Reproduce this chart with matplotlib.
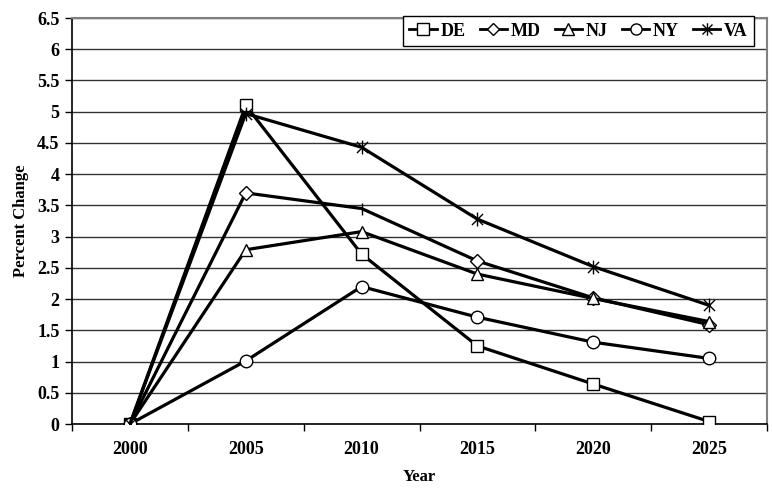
"""
plot.py
percent change by state, 2000-2025
"""

import matplotlib
matplotlib.use('Agg')
import matplotlib.pyplot as plt
from matplotlib.lines import Line2D
from matplotlib.path import Path

## data
YEARS  = ['2000', '2005', '2010', '2015', '2020', '2025']
DE_VAL = [0, 5.10, 2.72, 1.25, 0.64, 0.04]
MD_VAL = [0, 3.70, 3.45, 2.61, 2.02, 1.59]
NJ_VAL = [0, 2.79, 3.08, 2.40, 2.01, 1.64]
NY_VAL = [0, 1.01, 2.20, 1.71, 1.31, 1.05]
VA_VAL = [0, 4.97, 4.43, 3.28, 2.52, 1.90]

## excel-style star: X with a vertical bar
STAR = Path([(0, -1), (0, 1), (-0.8, -0.8), (0.8, 0.8), (-0.8, 0.8), (0.8, -0.8)],
            [Path.MOVETO, Path.LINETO, Path.MOVETO, Path.LINETO, Path.MOVETO, Path.LINETO])

SERIES = [('DE', DE_VAL, 's', 9), ('MD', MD_VAL, 'D', 7), ('NJ', NJ_VAL, '^', 9),
          ('NY', NY_VAL, 'o', 9), ('VA', VA_VAL, STAR, 10)]


def plot_test():
    plt.rcParams['font.family'] = ['Liberation Serif', 'DejaVu Serif']
    plt.rcParams['font.weight'] = 'bold'

    fig = plt.figure(figsize=(7.72, 4.92), dpi=100)
    ax = fig.add_axes([0.0933, 0.1382, 0.9002, 0.8252])

    x_list = range(len(YEARS))
    handles = []
    for name, vals, mk, ms in SERIES:
        mev = [0, 1, 3, 4, 5] if name == 'MD' else None
        ax.plot(x_list, vals, '-', color='black', lw=2.3, marker=mk,
                markersize=ms, markerfacecolor='white',
                markeredgecolor='black', markeredgewidth=1.0,
                markevery=mev, zorder=3)
        if name == 'MD':
            ax.plot([x_list[2]], [vals[2]], marker='|', color='black',
                    markersize=9, markeredgewidth=1.0, zorder=4)
        handles.append(Line2D([], [], color='black', lw=2, marker=mk,
                              markersize=ms - 1, markerfacecolor='white',
                              markeredgecolor='black', markeredgewidth=1.0,
                              label=name))

    ax.set_xlim(-0.5, 5.5)
    ax.set_ylim(0, 6.5)
    ax.set_yticks([i * 0.5 for i in range(14)])
    ax.set_yticklabels(['0', '0.5', '1', '1.5', '2', '2.5', '3', '3.5', '4',
                        '4.5', '5', '5.5', '6', '6.5'])
    ax.set_xticks(list(x_list))
    ax.set_xticklabels(YEARS)
    ax.set_xticks([i - 0.5 for i in range(7)], minor=True)
    ax.tick_params(axis='x', which='major', length=0, pad=12, labelsize=13)
    ax.tick_params(axis='x', which='minor', length=5, width=1, direction='out')
    ax.tick_params(axis='y', length=5, width=1, labelsize=13, pad=4)

    ax.grid(True, axis='y', color='black', lw=1, alpha=0.8)
    ax.set_axisbelow(True)
    for side in ('top', 'right'):
        ax.spines[side].set_color('#808080')
        ax.spines[side].set_linewidth(1.5)
    ax.spines['left'].set_linewidth(1.2)
    ax.spines['bottom'].set_linewidth(1.2)

    ax.set_xlabel('Year', fontsize=12, fontweight='bold', labelpad=8)
    ax.set_ylabel('Percent Change', fontsize=12, fontweight='bold', labelpad=6)

    leg = ax.legend(handles=handles, loc='upper right', ncol=5,
                    bbox_to_anchor=(0.981, 1.004), borderaxespad=0,
                    fontsize=13, frameon=True, fancybox=False,
                    handlelength=1.5, handletextpad=0.2,
                    columnspacing=0.8, borderpad=0.35)
    leg.get_frame().set_edgecolor('black')
    leg.get_frame().set_linewidth(1.0)
    leg.get_frame().set_alpha(1)

    fig.savefig('out.png', dpi=100)
    return None


if __name__ == '__main__':
    plot_test()
